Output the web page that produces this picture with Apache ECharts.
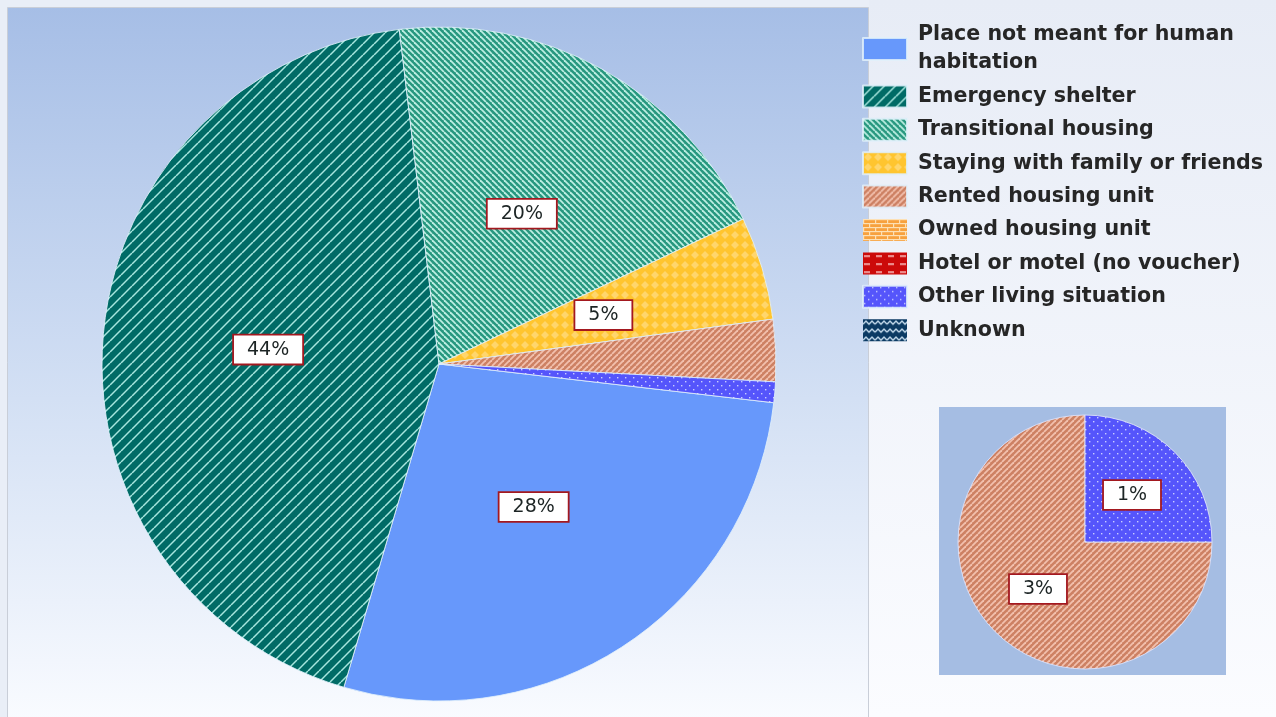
<!DOCTYPE html>
<html>
<head>
<meta charset="utf-8">
<title>Prior living situation</title>
<script src="https://cdn.jsdelivr.net/npm/echarts@6/dist/echarts.min.js"></script>
<style>
  html, body { margin: 0; padding: 0; background: #e9eef7; }
  #chart { width: 1276px; height: 717px; }
</style>
</head>
<body>
<div id="chart"></div>
<script>
// Living situation categories, in legend / drawing order
const categories = [
  'Place not meant for human habitation',
  'Emergency shelter',
  'Transitional housing',
  'Staying with family or friends',
  'Rented housing unit',
  'Owned housing unit',
  'Hotel or motel (no voucher)',
  'Other living situation',
  'Unknown'
];
// Share of people in each category (percent)
const shares = [28, 44, 20, 5, 3, 0, 0, 1, 0];
// Small categories broken out in the inset pie
const insetCategories = ['Rented housing unit', 'Other living situation'];
// Legend text (first entry wraps onto two lines)
const legendLabels = [
  'Place not meant for human\nhabitation',
  'Emergency shelter',
  'Transitional housing',
  'Staying with family or friends',
  'Rented housing unit',
  'Owned housing unit',
  'Hotel or motel (no voucher)',
  'Other living situation',
  'Unknown'
];

const FONT = 'DejaVu Sans';

// ---- fill patterns ----
function tile(w, h, draw) {
  const c = document.createElement('canvas');
  c.width = w; c.height = h;
  const g = c.getContext('2d');
  draw(g, w, h);
  return { image: c, repeat: 'repeat' };
}
function stripes(bg, fg, size, lw, rising) {
  return tile(size, size, (g, w, h) => {
    g.fillStyle = bg; g.fillRect(0, 0, w, h);
    g.strokeStyle = fg; g.lineWidth = lw;
    for (const k of [-size, 0, size]) {
      g.beginPath();
      if (rising) { g.moveTo(k, size); g.lineTo(k + size, 0); }
      else { g.moveTo(k, 0); g.lineTo(k + size, size); }
      g.stroke();
    }
  });
}
const fills = [
  '#6798fb',
  stripes('#006b66', '#a6e6de', 11, 1.5, true),
  stripes('#27977f', '#bdeee2', 6, 1.8, false),
  tile(10, 10, (g, w, h) => {
    g.fillStyle = '#ffc52f'; g.fillRect(0, 0, w, h);
    g.fillStyle = '#ffd66c';
    g.beginPath(); g.moveTo(5, 1); g.lineTo(9, 5); g.lineTo(5, 9); g.lineTo(1, 5); g.closePath(); g.fill();
  }),
  stripes('#cd8163', '#f2c0ad', 6, 1.8, true),
  tile(12, 8, (g, w, h) => {
    g.fillStyle = '#f7a13e'; g.fillRect(0, 0, w, h);
    g.fillStyle = '#fde0b4';
    g.fillRect(0, 0, w, 1.2); g.fillRect(0, 4, w, 1.2);
    g.fillRect(0, 0, 1.2, 4); g.fillRect(6, 4, 1.2, 4);
  }),
  tile(12, 8, (g, w, h) => {
    g.fillStyle = '#cc0a0a'; g.fillRect(0, 0, w, h);
    g.fillStyle = '#ffd6d6';
    g.fillRect(1, 3, 6, 1.4);
  }),
  tile(8, 8, (g, w, h) => {
    g.fillStyle = '#5555fb'; g.fillRect(0, 0, w, h);
    g.fillStyle = '#c8ccff';
    g.fillRect(1, 1, 1.4, 1.4); g.fillRect(5, 5, 1.4, 1.4);
  }),
  tile(12, 8, (g, w, h) => {
    g.fillStyle = '#0b3a63'; g.fillRect(0, 0, w, h);
    g.strokeStyle = '#cfe4f4'; g.lineWidth = 1.3;
    g.beginPath(); g.moveTo(0, 5); g.lineTo(3, 2); g.lineTo(6, 5); g.lineTo(9, 2); g.lineTo(12, 5); g.stroke();
  })
];

const labelBox = {
  position: 'inside',
  formatter: p => p.value + '%',
  fontFamily: FONT,
  fontSize: 19,
  lineHeight: 20,
  color: '#1c2424',
  backgroundColor: '#ffffff',
  borderColor: '#a3181f',
  borderWidth: 1.8,
  padding: [4, 13, 4, 13]
};

const mainData = categories.map((name, i) => ({
  name,
  value: shares[i],
  itemStyle: { color: fills[i], borderWidth: shares[i] > 0 ? 1 : 0 },
  label: { show: shares[i] >= 5 }
}));

const insetData = insetCategories.map(name => {
  const i = categories.indexOf(name);
  return { name, value: shares[i], itemStyle: { color: fills[i] } };
});

const chart = echarts.init(document.getElementById('chart'), null, { renderer: 'canvas' });
chart.setOption({
  animation: false,
  graphic: [
    {
      type: 'rect', z: 0, silent: true,
      shape: { x: 869, y: 0, width: 407, height: 717 },
      style: {
        fill: new echarts.graphic.LinearGradient(0, 0, 0, 1, [
          { offset: 0, color: '#e7ecf6' }, { offset: 1, color: '#fbfcff' }
        ])
      }
    },
    {
      type: 'rect', z: 0, silent: true,
      shape: { x: 7.5, y: 7.5, width: 861, height: 712 },
      style: {
        fill: new echarts.graphic.LinearGradient(0, 0, 0, 1, [
          { offset: 0, color: '#a6bee6' }, { offset: 0.55, color: '#d3e0f4' }, { offset: 1, color: '#f9fbff' }
        ]),
        stroke: '#c9ced8', lineWidth: 1
      }
    },
    {
      type: 'rect', z: 0, silent: true,
      shape: { x: 939, y: 407, width: 287, height: 268 },
      style: { fill: '#a5bde3' }
    }
  ],
  legend: {
    orient: 'vertical',
    left: 862,
    top: 21,
    padding: 0,
    data: categories,
    selectedMode: false,
    icon: 'rect',
    itemWidth: 44,
    itemHeight: 22,
    itemGap: 5.4,
    formatter: name => legendLabels[categories.indexOf(name)],
    textStyle: {
      fontFamily: FONT, fontSize: 20.6, fontWeight: 'bold', lineHeight: 28, color: '#262626',
      padding: [0, 0, 0, 6]
    }
  },
  series: [
    {
      type: 'pie',
      center: [439, 364],
      radius: 337,
      startAngle: -6.6,
      clockwise: true,
      silent: true,
      emphasis: { disabled: true },
      itemStyle: { borderColor: 'rgba(225,240,250,0.85)' },
      label: labelBox,
      labelLine: { show: false },
      data: mainData
    },
    {
      type: 'pie',
      center: [1085, 542],
      radius: 127,
      startAngle: 0,
      clockwise: true,
      silent: true,
      emphasis: { disabled: true },
      itemStyle: { borderColor: 'rgba(220,225,250,0.9)', borderWidth: 1 },
      label: labelBox,
      labelLine: { show: false },
      data: insetData
    }
  ]
});
</script>
</body>
</html>
